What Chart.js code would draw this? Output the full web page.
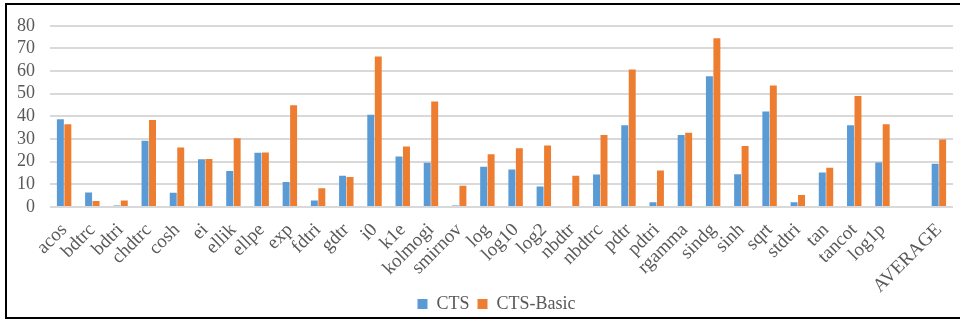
<!DOCTYPE html>
<html>
<head>
<meta charset="utf-8">
<script src="https://cdn.jsdelivr.net/npm/chart.js@4"></script>
<style>
  html, body { margin: 0; padding: 0; background: #fff; overflow: hidden; }
  #wrap { position: relative; width: 960px; height: 320px; }
  #frame {
    position: absolute; left: 5px; top: 3px; width: 1000px; height: 316px;
    box-sizing: border-box; border: 2px solid #000; pointer-events: none;
  }
</style>
</head>
<body>
<div id="wrap">
  <canvas id="myChart" width="960" height="320"></canvas>
  <div id="frame"></div>
</div>
<script>
// categories (empty slot before AVERAGE as in the original)
var categories = ['acos', 'bdtrc', 'bdtri', 'chdtrc', 'cosh', 'ei', 'ellik', 'ellpe', 'exp', 'fdtri',
  'gdtr', 'i0', 'k1e', 'kolmogi', 'smirnov', 'log', 'log10', 'log2', 'nbdtr', 'nbdtrc',
  'pdtr', 'pdtri', 'rgamma', 'sindg', 'sinh', 'sqrt', 'stdtri', 'tan', 'tancot', 'log1p',
  '', 'AVERAGE'];

var ctsValues = [38.7, 6.4, 0.7, 29.3, 6.3, 21.1, 15.9, 24.0, 11.0, 2.9,
  13.8, 40.7, 22.3, 19.5, 0.7, 17.8, 16.6, 9.0, 0, 14.4,
  36.1, 2.1, 31.8, 57.7, 14.5, 42.2, 2.1, 15.2, 36.1, 19.6,
  null, 19.1];

var basicValues = [36.5, 2.7, 2.9, 38.4, 26.3, 21.2, 30.4, 24.1, 44.9, 8.3,
  13.2, 66.4, 26.7, 46.6, 9.4, 23.3, 25.9, 27.2, 13.8, 31.8,
  60.7, 16.1, 32.8, 74.5, 26.9, 53.6, 5.3, 17.3, 49.0, 36.5,
  null, 29.8];

var yTicks = [0, 10, 20, 30, 40, 50, 60, 70, 80];

var serif = "'Liberation Serif', 'Times New Roman', serif";
var textGray = '#595959';

// nudge the legend (Excel puts it slightly right, and x labels overlap its band)
var legendShift = {
    id: 'legendShift',
    afterLayout: function (chart) {
        var lg = chart.legend;
        lg.left += 20; lg.right += 20;
        lg.top -= 8; lg.bottom -= 8;
    }
};

var ctx = document.getElementById('myChart').getContext('2d');
var chart = new Chart(ctx, {
    type: 'bar',
    data: {
        labels: categories,
        datasets: [{
            label: 'CTS',
            data: ctsValues,
            backgroundColor: '#5B9BD5',
            categoryPercentage: 0.53,
            barPercentage: 0.93
        }, {
            label: 'CTS-Basic',
            data: basicValues,
            backgroundColor: '#ED7D31',
            categoryPercentage: 0.53,
            barPercentage: 0.93
        }]
    },
    options: {
        responsive: false,
        animation: false,
        layout: {
            padding: { top: 19, right: 7, bottom: -11, left: 0 }
        },
        scales: {
            x: {
                grid: { display: false, drawTicks: false },
                border: { display: false },
                ticks: {
                    minRotation: 45,
                    maxRotation: 45,
                    autoSkip: false,
                    padding: 12,
                    color: textGray,
                    font: { family: serif, size: 19 }
                },
                afterFit: function (scale) {
                    scale.height = 88;
                    scale.paddingLeft = 0;
                    scale.paddingRight = 0;
                }
            },
            y: {
                min: 0,
                max: 80,
                afterBuildTicks: function (scale) {
                    scale.ticks = yTicks.map(function (v) { return { value: v }; });
                },
                grid: { color: '#d9d9d9', lineWidth: 2, drawTicks: false },
                border: { display: false },
                ticks: {
                    autoSkip: false,
                    padding: 15,
                    color: textGray,
                    font: { family: serif, size: 18 }
                },
                afterFit: function (scale) { scale.width = 50; }
            }
        },
        plugins: {
            legend: {
                position: 'bottom',
                labels: {
                    boxWidth: 10,
                    boxHeight: 10,
                    padding: 8,
                    color: textGray,
                    font: { family: serif, size: 18 }
                }
            },
            tooltip: { enabled: false }
        }
    },
    plugins: [legendShift]
});
</script>
</body>
</html>
